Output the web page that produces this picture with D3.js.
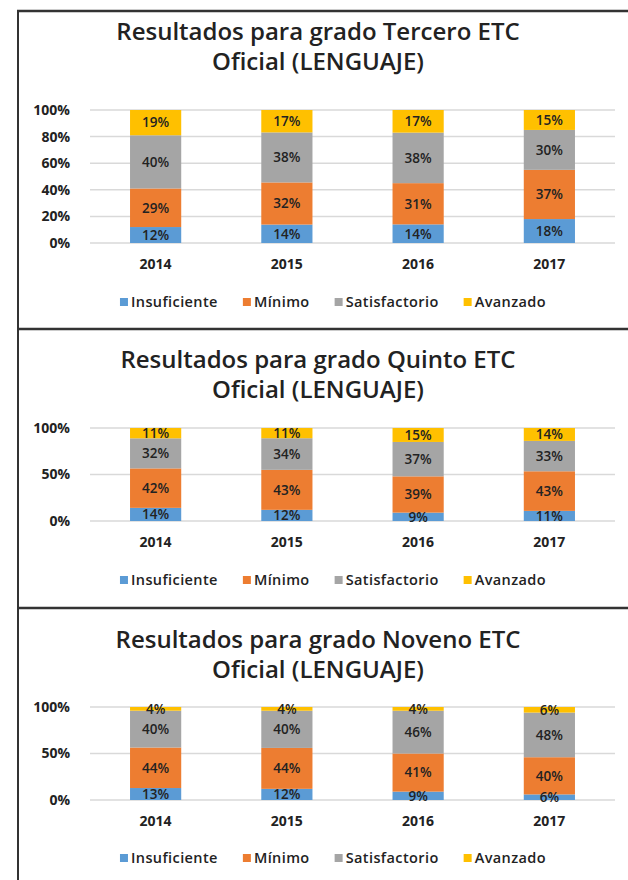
<!DOCTYPE html>
<html>
<head>
<meta charset="utf-8">
<script src="https://cdn.jsdelivr.net/npm/d3@7"></script>
<style>
  body { margin: 0; background: #fff; }
  svg { display: block; font-family: "Open Sans", Lato, sans-serif; }
</style>
</head>
<body>
<svg id="chart" width="628" height="880"></svg>
<script>
var years = ["2014", "2015", "2016", "2017"];
var levels = ["Insuficiente", "Mínimo", "Satisfactorio", "Avanzado"];
var levelColors = ["#5B9BD5", "#ED7D31", "#A5A5A5", "#FFC000"];

var titles = [
  ["Resultados para grado Tercero ETC", "Oficial (LENGUAJE)"],
  ["Resultados para grado Quinto ETC", "Oficial (LENGUAJE)"],
  ["Resultados para grado Noveno ETC", "Oficial (LENGUAJE)"]
];

// percentages per level, one value per year
var tercero = [
  [12, 14, 14, 18],
  [29, 32, 31, 37],
  [40, 38, 38, 30],
  [19, 17, 17, 15]
];
var quinto = [
  [14, 12, 9, 11],
  [42, 43, 39, 43],
  [32, 34, 37, 33],
  [11, 11, 15, 14]
];
var noveno = [
  [13, 12, 9, 6],
  [44, 44, 41, 40],
  [40, 40, 46, 48],
  [4, 4, 4, 6]
];

var tickSets = [
  [0, 0.2, 0.4, 0.6, 0.8, 1],
  [0, 0.5, 1],
  [0, 0.5, 1]
];

var svg = d3.select("#chart");

// frame lines
svg.append("line").attr("x1", 18).attr("x2", 18).attr("y1", 10).attr("y2", 880)
  .attr("stroke", "#333").attr("stroke-width", 2);
[11, 329, 608].forEach(function(y) {
  svg.append("line").attr("x1", 17).attr("x2", 628).attr("y1", y).attr("y2", y)
    .attr("stroke", "#333").attr("stroke-width", 2.5);
});

var panels = [
  {data: tercero, title: titles[0], ticks: tickSets[0], titleY: 40, top: 110, bottom: 243, yearY: 270, legendY: 302},
  {data: quinto, title: titles[1], ticks: tickSets[1], titleY: 368, top: 428, bottom: 521, yearY: 548, legendY: 580},
  {data: noveno, title: titles[2], ticks: tickSets[2], titleY: 648, top: 707, bottom: 800, yearY: 827, legendY: 858}
];

var x = d3.scaleBand().domain(years).range([90, 615]).paddingInner(0.61).paddingOuter(0.305);

panels.forEach(function(p) {
  var g = svg.append("g");

  g.selectAll(".title").data(p.title).enter().append("text")
    .attr("x", 318).attr("y", function(d, i) { return p.titleY + i * 30; })
    .attr("text-anchor", "middle")
    .attr("font-size", 24).attr("font-weight", 600).attr("fill", "#222")
    .text(function(d) { return d; });

  var y = d3.scaleLinear().domain([0, 1]).range([p.bottom, p.top]);

  // gridlines
  g.selectAll(".grid").data(p.ticks).enter().append("line")
    .attr("x1", 90).attr("x2", 615)
    .attr("y1", function(d) { return y(d); }).attr("y2", function(d) { return y(d); })
    .attr("stroke", "#D9D9D9").attr("stroke-width", 1.5);

  var yAxis = g.append("g").attr("transform", "translate(73,0)")
    .call(d3.axisLeft(y).tickValues(p.ticks).tickFormat(d3.format(".0%")).tickSize(0));
  yAxis.select(".domain").remove();
  yAxis.selectAll("text").attr("font-size", 14).attr("font-weight", 700)
    .attr("fill", "#222").attr("font-family", "'Open Sans', sans-serif");

  var xAxis = g.append("g").attr("transform", "translate(0," + (p.yearY - 14) + ")")
    .call(d3.axisBottom(x).tickSize(0));
  xAxis.select(".domain").remove();
  xAxis.selectAll("text").attr("font-size", 14).attr("font-weight", 700)
    .attr("fill", "#222").attr("font-family", "'Open Sans', sans-serif");

  // build stacked rows
  var rows = years.map(function(yr, j) {
    var r = {year: yr};
    levels.forEach(function(l, k) { r[l] = p.data[k][j]; });
    return r;
  });
  var series = d3.stack().keys(levels).offset(d3.stackOffsetExpand)(rows);

  var sg = g.selectAll(".series").data(series).enter().append("g")
    .attr("fill", function(d, i) { return levelColors[i]; });

  sg.selectAll("rect").data(function(d) { return d; }).enter().append("rect")
    .attr("x", function(d) { return x(d.data.year); })
    .attr("width", x.bandwidth())
    .attr("y", function(d) { return y(d[1]); })
    .attr("height", function(d) { return y(d[0]) - y(d[1]); });

  g.selectAll(".series-label").data(series).enter().append("g")
    .selectAll("text").data(function(s) { return s.map(function(d) { return {d: d, key: s.key}; }); })
    .enter().append("text")
    .attr("x", function(o) { return x(o.d.data.year) + x.bandwidth() / 2; })
    .attr("y", function(o) { return (y(o.d[0]) + y(o.d[1])) / 2; })
    .attr("dy", "0.36em")
    .attr("text-anchor", "middle")
    .attr("font-size", 13.5).attr("font-weight", 600).attr("fill", "#222")
    .text(function(o) { return o.d.data[o.key] + "%"; });

  // legend
  var lg = g.append("g");
  var cx = 0;
  levels.forEach(function(l, i) {
    var item = lg.append("g").attr("transform", "translate(" + cx + ",0)");
    item.append("rect").attr("x", 0).attr("y", p.legendY - 4).attr("width", 8).attr("height", 8)
      .attr("fill", levelColors[i]);
    var t = item.append("text").attr("x", 11).attr("y", p.legendY).attr("dy", "0.35em")
      .attr("font-size", 14.5).attr("font-weight", 600).attr("letter-spacing", 0.4)
      .attr("fill", "#222").text(l);
    cx += 11 + t.node().getComputedTextLength() + 25;
  });
  cx -= 25;
  lg.attr("transform", "translate(" + (333 - cx / 2) + ",0)");
});
</script>
</body>
</html>
